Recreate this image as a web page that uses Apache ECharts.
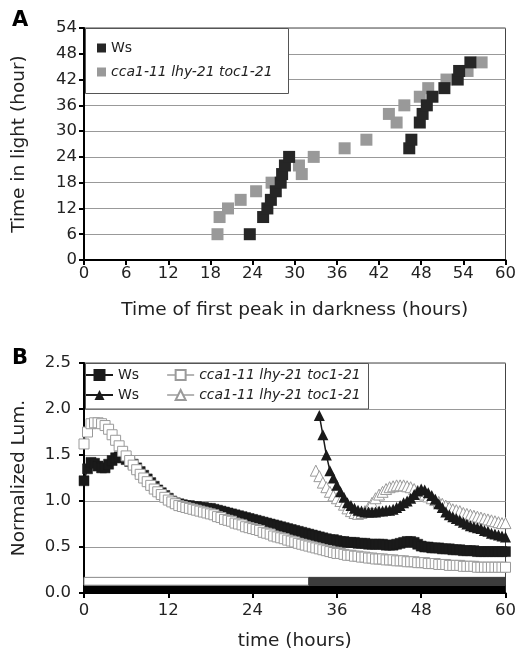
<!DOCTYPE html>
<html><head><meta charset="utf-8">
<script src="https://cdn.jsdelivr.net/npm/echarts@6/dist/echarts.min.js"></script>
<style>html,body{margin:0;padding:0;background:#fff}#c{width:519px;height:657px}</style>
</head><body><div id="c"></div><script>
// ---------- Panel A data: [time of first peak in darkness (h), time in light (h)] ----------
const wsPeaksA = [[23.6,6],[25.5,10],[26.1,12],[26.6,14],[27.3,16],[28.0,18],[28.2,20],[28.6,22],[29.2,24],
  [46.3,26],[46.6,28],[47.8,32],[48.2,34],[48.8,36],[49.6,38],[51.3,40],[53.2,42],[53.4,44],[55.0,46]];
const mutPeaksA = [[19.0,6],[19.3,10],[20.5,12],[22.3,14],[24.5,16],[26.7,18],[31.0,20],[30.6,22],[32.7,24],
  [37.1,26],[40.2,28],[44.5,32],[43.4,34],[45.6,36],[47.8,38],[49.0,40],[51.6,42],[54.6,44],[56.6,46]];
const ticksA = {xMin:0, xMax:60, xStep:6, yMin:0, yMax:54, yStep:6};

// ---------- Panel B data: normalized luminescence sampled every 0.5 h ----------
const sampleStepB = 0.5;
const wsSquaresStart = 0;
const wsSquares = [
  1.22,1.35,1.42,1.41,1.38,1.36,1.36,1.40,1.44,1.47,
  1.48,1.47,1.45,1.43,1.40,1.36,1.32,1.28,1.24,1.20,
  1.16,1.12,1.09,1.06,1.03,1.00,0.98,0.97,0.96,0.95,
  0.95,0.94,0.94,0.93,0.93,0.92,0.92,0.91,0.90,0.89,
  0.88,0.87,0.86,0.85,0.84,0.83,0.82,0.81,0.80,0.79,
  0.78,0.77,0.76,0.75,0.74,0.73,0.72,0.71,0.70,0.69,
  0.68,0.67,0.66,0.65,0.64,0.63,0.62,0.61,0.60,0.59,
  0.58,0.58,0.57,0.56,0.56,0.55,0.55,0.55,0.54,0.54,
  0.54,0.53,0.53,0.53,0.53,0.53,0.52,0.52,0.52,0.53,
  0.54,0.55,0.56,0.56,0.55,0.53,0.51,0.50,0.50,0.49,
  0.49,0.49,0.48,0.48,0.48,0.47,0.47,0.47,0.46,0.46,
  0.46,0.46,0.45,0.45,0.45,0.45,0.45,0.45,0.45,0.45,
  0.45];
const mutSquaresStart = 0;
const mutSquares = [
  1.62,1.75,1.84,1.85,1.85,1.84,1.82,1.78,1.72,1.66,
  1.60,1.54,1.49,1.44,1.39,1.34,1.29,1.25,1.21,1.17,
  1.13,1.10,1.07,1.04,1.01,0.99,0.97,0.95,0.94,0.93,
  0.92,0.91,0.90,0.89,0.88,0.87,0.86,0.85,0.83,0.82,
  0.80,0.79,0.78,0.76,0.75,0.74,0.72,0.71,0.70,0.69,
  0.68,0.66,0.65,0.64,0.62,0.61,0.60,0.59,0.575,0.565,
  0.555,0.54,0.53,0.52,0.51,0.50,0.49,0.48,0.47,0.46,
  0.45,0.44,0.43,0.43,0.42,0.41,0.41,0.40,0.40,0.39,
  0.39,0.38,0.38,0.37,0.37,0.37,0.36,0.36,0.36,0.35,
  0.35,0.35,0.34,0.34,0.34,0.33,0.33,0.33,0.32,0.32,
  0.32,0.31,0.31,0.31,0.30,0.30,0.30,0.30,0.29,0.29,
  0.29,0.29,0.28,0.28,0.28,0.28,0.28,0.28,0.28,0.28,
  0.28];
const wsTrianglesStart = 33.5;
const wsTriangles = [
  1.93,1.72,1.50,1.33,1.25,1.17,1.10,1.04,0.98,0.95,
  0.92,0.90,0.89,0.88,0.88,0.88,0.88,0.89,0.89,0.90,
  0.90,0.91,0.93,0.95,0.98,1.00,1.03,1.07,1.11,1.13,
  1.12,1.09,1.06,1.02,0.97,0.93,0.88,0.85,0.83,0.81,
  0.79,0.77,0.75,0.73,0.72,0.71,0.70,0.68,0.67,0.65,
  0.64,0.63,0.62,0.61];
const mutTrianglesStart = 33;
const mutTriangles = [
  1.33,1.27,1.20,1.15,1.10,1.06,1.03,1.00,0.96,0.92,
  0.89,0.87,0.86,0.87,0.89,0.93,0.98,1.03,1.07,1.10,
  1.13,1.15,1.16,1.17,1.17,1.17,1.16,1.15,1.13,1.11,
  1.09,1.07,1.05,1.03,1.01,0.99,0.97,0.95,0.93,0.91,
  0.90,0.89,0.87,0.86,0.85,0.84,0.83,0.82,0.81,0.80,
  0.79,0.78,0.77,0.76,0.76];
const ticksB = {xMin:0, xMax:60, xStep:12, yMin:0, yMax:2.5, yStep:0.5};
// light/dark condition bars (hours) and their vertical bands (axis units)
const lightPhase = [0, 32];
const darkPhase = [32, 60];
const baseBar = [0, 60];
const barBands = [0, 0.085, 0.17];

const labelsB = {wsSq:'Ws', mutSq:'cca1-11 lhy-21 toc1-21', wsTri:'Ws', mutTri:'cca1-11 lhy-21 toc1-21'};
const MUT = 'cca1-11 lhy-21 toc1-21';

// ---------------------------------------------------------------
const FONT = 'DejaVu Sans';
const toPairs = (vals, start) => vals.map((v, i) => [start + i * sampleStepB, v]);

const axisCommon = (extra) => Object.assign({
  type:'value',
  axisLine:{show:true, onZero:false, lineStyle:{color:'#000', width:2}},
  axisTick:{show:true, inside:false, length:5, lineStyle:{color:'#000', width:2}},
  axisLabel:{fontFamily:FONT, fontSize:16.5, color:'#222'},
  nameTextStyle:{fontFamily:FONT, fontSize:18.5, color:'#222'},
  nameLocation:'middle'
}, extra);

const option = {
  animation:false,
  backgroundColor:'#fff',
  grid:[
    {left:84, top:28, width:424, height:232, show:true, borderColor:'#444', borderWidth:1, backgroundColor:'transparent'},
    {left:84, top:363, width:422, height:230, show:true, borderColor:'#444', borderWidth:1, backgroundColor:'transparent'}
  ],
  xAxis:[
    axisCommon({gridIndex:0, min:ticksA.xMin, max:ticksA.xMax, interval:ticksA.xStep,
      splitLine:{show:false}, name:'Time of first peak in darkness (hours)', nameGap:41,
      axisLabel:{fontFamily:FONT, fontSize:16.5, color:'#222', margin:5}}),
    axisCommon({gridIndex:1, min:ticksB.xMin, max:ticksB.xMax, interval:ticksB.xStep,
      splitLine:{show:false}, name:'time (hours)', nameGap:39,
      axisLabel:{fontFamily:FONT, fontSize:16.5, color:'#222', margin:9}})
  ],
  yAxis:[
    axisCommon({gridIndex:0, min:ticksA.yMin, max:ticksA.yMax, interval:ticksA.yStep,
      splitLine:{show:true, lineStyle:{color:'#999', width:1}},
      name:'Time in light (hour)', nameGap:55,
      axisLabel:{fontFamily:FONT, fontSize:16.5, color:'#222', margin:7}}),
    axisCommon({gridIndex:1, min:ticksB.yMin, max:ticksB.yMax, interval:ticksB.yStep,
      splitLine:{show:true, lineStyle:{color:'#999', width:1}},
      name:'Normalized Lum.', nameGap:55,
      axisLabel:{fontFamily:FONT, fontSize:16.5, color:'#222', margin:13, formatter:v => v.toFixed(1)}})
  ],
  legend:[
    {orient:'vertical', left:97, top:40, padding:0, itemGap:8, itemWidth:9, itemHeight:9, icon:'rect',
      textStyle:{fontFamily:FONT, fontSize:14, color:'#222', lineHeight:16},
      data:[{name:'Ws'}, {name:MUT, textStyle:{fontStyle:'italic'}}]},
    {orient:'horizontal', left:85, top:367, padding:0, itemGap:27, itemWidth:27, itemHeight:12.5,
      textStyle:{fontFamily:FONT, fontSize:14, color:'#222', lineHeight:16},
      formatter:n => labelsB[n],
      data:[{name:'wsSq'}, {name:'mutSq', textStyle:{fontStyle:'italic'}}]},
    {orient:'horizontal', left:85, top:387, padding:0, itemGap:27, itemWidth:27, itemHeight:12.5,
      textStyle:{fontFamily:FONT, fontSize:14, color:'#222', lineHeight:16},
      formatter:n => labelsB[n],
      data:[{name:'wsTri'}, {name:'mutTri', textStyle:{fontStyle:'italic'}}]}
  ],
  graphic:[
    {type:'rect', z:1, shape:{x:85.5, y:28.5, width:203, height:65}, style:{fill:'#fff', stroke:'#555', lineWidth:1}},
    {type:'rect', z:1, shape:{x:85.5, y:363.5, width:283, height:45.5}, style:{fill:'#fff', stroke:'#555', lineWidth:1}},
    {type:'text', left:12, top:10, z:5, style:{text:'A', fontFamily:FONT, fontWeight:'bold', fontSize:21, fill:'#000'}},
    {type:'text', left:12, top:348, z:5, style:{text:'B', fontFamily:FONT, fontWeight:'bold', fontSize:21, fill:'#000'}}
  ],
  series:[
    {name:MUT, type:'scatter', xAxisIndex:0, yAxisIndex:0, symbol:'rect', symbolSize:12,
      itemStyle:{color:'#999999', opacity:1}, data:mutPeaksA},
    {name:'Ws', type:'scatter', xAxisIndex:0, yAxisIndex:0, symbol:'rect', symbolSize:12,
      itemStyle:{color:'#262626', opacity:1}, data:wsPeaksA},
    {name:'wsSq', type:'line', xAxisIndex:1, yAxisIndex:1, symbol:'rect', symbolSize:10, showSymbol:true,
      itemStyle:{color:'#1a1a1a', borderColor:'#1a1a1a', borderWidth:0.5},
      lineStyle:{color:'#1a1a1a', width:1.5},
      data:toPairs(wsSquares, wsSquaresStart),
      markArea:{silent:true, label:{show:false}, data:[
        [{xAxis:baseBar[0], yAxis:barBands[0], itemStyle:{color:'#000'}}, {xAxis:baseBar[1], yAxis:barBands[1]}],
        [{xAxis:lightPhase[0], yAxis:barBands[1], itemStyle:{color:'#fff', borderColor:'#888', borderWidth:1}}, {xAxis:lightPhase[1], yAxis:barBands[2]}],
        [{xAxis:darkPhase[0], yAxis:barBands[1], itemStyle:{color:'#3c3c3c', borderColor:'#3c3c3c', borderWidth:1}}, {xAxis:darkPhase[1], yAxis:barBands[2]}]
      ]}},
    {name:'mutSq', type:'line', xAxisIndex:1, yAxisIndex:1, symbol:'rect', symbolSize:10, showSymbol:true,
      itemStyle:{color:'#ffffff', borderColor:'#9a9a9a', borderWidth:1},
      lineStyle:{color:'#b5b5b5', width:1},
      data:toPairs(mutSquares, mutSquaresStart)},
    {name:'mutTri', type:'line', xAxisIndex:1, yAxisIndex:1, symbol:'triangle', symbolSize:11, showSymbol:true,
      itemStyle:{color:'#ffffff', borderColor:'#9a9a9a', borderWidth:1},
      lineStyle:{color:'#b5b5b5', width:1},
      data:toPairs(mutTriangles, mutTrianglesStart)},
    {name:'wsTri', type:'line', xAxisIndex:1, yAxisIndex:1, symbol:'triangle', symbolSize:11, showSymbol:true,
      itemStyle:{color:'#1a1a1a'},
      lineStyle:{color:'#1a1a1a', width:1.5},
      data:toPairs(wsTriangles, wsTrianglesStart)}
  ]
};
const chart = echarts.init(document.getElementById('c'));
chart.setOption(option);
</script></body></html>
